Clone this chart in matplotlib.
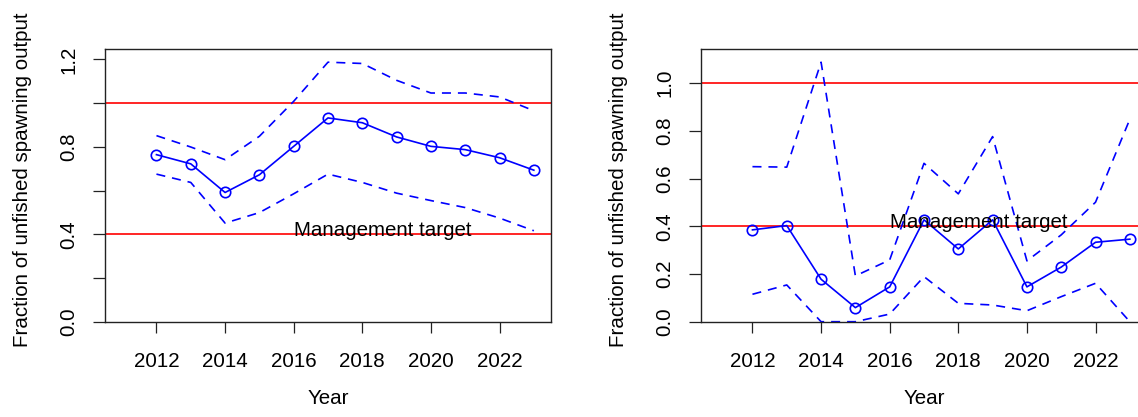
import matplotlib
matplotlib.use("Agg")
import matplotlib.pyplot as plt
import numpy as np

plt.rcParams["font.family"] = ["Liberation Sans", "DejaVu Sans"]
plt.rcParams["lines.scale_dashes"] = False

years = list(range(2012, 2024))

# Left panel: fraction of unfished spawning output with interval bounds
left_mean = [0.764, 0.722, 0.591, 0.672, 0.802, 0.932, 0.910, 0.845, 0.802, 0.787, 0.750, 0.693]
left_upper = [0.851, 0.799, 0.741, 0.848, 1.008, 1.187, 1.181, 1.104, 1.046, 1.046, 1.028, 0.965]
left_lower = [0.675, 0.637, 0.451, 0.499, 0.585, 0.675, 0.637, 0.588, 0.554, 0.522, 0.474, 0.416]

# Right panel
right_mean = [0.385, 0.403, 0.178, 0.059, 0.146, 0.427, 0.305, 0.427, 0.146, 0.229, 0.333, 0.346]
right_upper = [0.650, 0.648, 1.088, 0.192, 0.259, 0.664, 0.536, 0.776, 0.255, 0.364, 0.501, 0.849]
right_lower = [0.115, 0.154, 0.000, 0.000, 0.032, 0.189, 0.077, 0.070, 0.046, 0.105, 0.161, 0.000]

reference_levels = [1.0, 0.4]
target_level = 0.4
target_label = "Management target"
x_ticks = [2012, 2014, 2016, 2018, 2020, 2022]
left_yticks = [0.0, 0.2, 0.4, 0.6, 0.8, 1.0, 1.2]
left_ylabels = ["0.0", "", "0.4", "", "0.8", "", "1.2"]
right_yticks = [0.0, 0.2, 0.4, 0.6, 0.8, 1.0]
right_ylabels = ["0.0", "0.2", "0.4", "0.6", "0.8", "1.0"]

W, H = 1138, 417
fig = plt.figure(figsize=(W / 100, H / 100), dpi=100)

ax_w = 446 / W
ax_h = 272.5 / H
ax_b = (H - 321.7) / H
ax1 = fig.add_axes([105 / W, ax_b, ax_w, ax_h])
ax2 = fig.add_axes([701 / W, ax_b, ax_w, ax_h])

FS = 14.8
BLUE = "#0000FF"
RED = "#FF0000"


def draw(ax, mean, upper, lower, yticks, ylabels):
    ax.set_xlim(2010.5, 2023.5)
    ax.set_ylim(0, max(upper) * 1.05)
    for lvl in reference_levels:
        ax.axhline(lvl, color=RED, lw=1.2, zorder=1)
    ax.plot(years, upper, color=BLUE, lw=1.2, dashes=(6.5, 5), zorder=2)
    ax.plot(years, lower, color=BLUE, lw=1.2, dashes=(6.5, 5), zorder=2)
    ax.plot(years, mean, color=BLUE, lw=1.2, marker="o", ms=7.5,
            mfc="none", mec=BLUE, mew=1.2, zorder=3)
    ax.text(2016, target_level - 0.006, target_label, ha="left", va="baseline",
            fontsize=FS, color="black", zorder=4)
    ax.set_xticks(x_ticks)
    ax.set_xticklabels([str(t) for t in x_ticks], fontsize=FS)
    ax.set_yticks(yticks)
    ax.set_yticklabels(ylabels, fontsize=FS, rotation=90, va="center")
    ax.tick_params(axis="x", length=8, width=0.9, pad=13.5, color="#222222")
    ax.tick_params(axis="y", length=8.6, width=0.9, pad=10.5, color="#222222")
    for s in ax.spines.values():
        s.set_color("#222222")
        s.set_linewidth(1.0)
    ax.set_xlabel("Year", fontsize=FS)
    ax.xaxis.label.set_va("center")
    ax.xaxis.set_label_coords(0.5, (321.7 - 398) / 272.5)
    ax.set_ylabel("Fraction of unfished spawning output", fontsize=FS)
    ax.yaxis.label.set_va("center")
    ax.yaxis.set_label_coords((22.5 - 105) / 446, 0.52)


draw(ax1, left_mean, left_upper, left_lower, left_yticks, left_ylabels)
draw(ax2, right_mean, right_upper, right_lower, right_yticks, right_ylabels)

fig.savefig("out.png", dpi=100)
